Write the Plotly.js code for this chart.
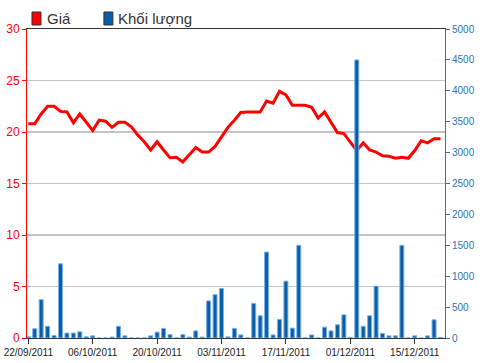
<!DOCTYPE html>
<html>
<head>
<meta charset="utf-8">
<script src="https://cdn.plot.ly/plotly-3.0.1.min.js"></script>
<style>html,body{margin:0;padding:0;background:#fff;}#chart{width:484px;height:363px;}</style>
</head>
<body>
<div id="chart"></div>
<script>
const dates = [
  "22/09/2011","23/09/2011","26/09/2011","27/09/2011","28/09/2011","29/09/2011","30/09/2011",
  "03/10/2011","04/10/2011","05/10/2011","06/10/2011","07/10/2011","10/10/2011","11/10/2011",
  "12/10/2011","13/10/2011","14/10/2011","17/10/2011","18/10/2011","19/10/2011","20/10/2011",
  "21/10/2011","24/10/2011","25/10/2011","26/10/2011","27/10/2011","28/10/2011","31/10/2011",
  "01/11/2011","02/11/2011","03/11/2011","04/11/2011","07/11/2011","08/11/2011","09/11/2011",
  "10/11/2011","11/11/2011","14/11/2011","15/11/2011","16/11/2011","17/11/2011","18/11/2011",
  "21/11/2011","22/11/2011","23/11/2011","24/11/2011","25/11/2011","28/11/2011","29/11/2011",
  "30/11/2011","01/12/2011","02/12/2011","05/12/2011","06/12/2011","07/12/2011","08/12/2011",
  "09/12/2011","12/12/2011","13/12/2011","14/12/2011","15/12/2011","16/12/2011","19/12/2011",
  "20/12/2011","21/12/2011"
];
const price = [
  20.8,20.8,21.75,22.5,22.5,22.0,21.95,
  20.9,21.75,20.95,20.15,21.15,21.05,20.45,
  20.95,20.95,20.5,19.7,19.05,18.25,19.05,
  18.25,17.5,17.55,17.1,17.8,18.5,18.05,
  18.05,18.6,19.5,20.45,21.15,21.9,21.95,
  21.95,21.95,23.0,22.8,23.95,23.6,22.6,
  22.6,22.6,22.4,21.35,21.95,20.95,19.95,
  19.85,19.0,18.2,18.95,18.25,18.05,17.7,
  17.65,17.45,17.55,17.45,18.2,19.15,18.95,
  19.35,19.35
];
const volume = [
  20,150,620,190,40,1200,80,
  80,100,20,35,0,0,15,
  190,35,0,0,0,35,95,
  155,55,0,55,15,115,15,
  600,700,800,20,155,50,0,
  560,360,1390,50,300,920,160,
  1500,0,50,0,175,115,215,
  375,10,4500,190,360,840,75,
  35,35,1500,0,35,0,35,
  295,10
];
const tickDates = ["22/09/2011","06/10/2011","20/10/2011","03/11/2011","17/11/2011","01/12/2011","15/12/2011"];
const leftTicks = [0,5,10,15,20,25,30];
const rightTicks = [0,500,1000,1500,2000,2500,3000,3500,4000,4500,5000];
const seriesNames = ["Giá","Khối lượng"];

const RED = "#ff0000";
const BLUE = "#0a5ea8";
const AXBLUE = "#2a74b4";

const traces = [
  {
    type: "scatter", mode: "lines", name: seriesNames[0],
    x: dates, y: price, yaxis: "y",
    line: {color: RED, width: 3},
    showlegend: false, hoverinfo: "skip"
  },
  {
    type: "bar", name: seriesNames[1],
    x: dates, y: volume, yaxis: "y2",
    width: 0.62,
    marker: {color: BLUE, line: {color: "#79b0e6", width: 1}},
    showlegend: false, hoverinfo: "skip"
  }
];

function px2x(p){ return (p - 27) / 418.5; }
function px2y(p){ return (338 - p) / 309; }

const layout = {
  width: 484, height: 363,
  margin: {l: 27, r: 39, t: 29, b: 25, pad: 0},
  paper_bgcolor: "#ffffff", plot_bgcolor: "#ffffff",
  showlegend: false,
  font: {family: "Liberation Sans, Arial, sans-serif", size: 10, color: "#222"},
  xaxis: {
    type: "category",
    categoryorder: "array", categoryarray: dates,
    range: [-0.2, 64.7],
    tickmode: "array", tickvals: tickDates, ticktext: tickDates,
    ticks: "outside", ticklen: 5, tickcolor: "#333", tickwidth: 1,
    showline: true, linecolor: "#333", linewidth: 1, mirror: true,
    showgrid: false, zeroline: false,
    tickfont: {size: 10, color: "#222"},
    fixedrange: true
  },
  yaxis: {
    range: [0, 30],
    tickmode: "array", tickvals: leftTicks,
    ticks: "outside", ticklen: 4, tickcolor: RED,
    showline: true, linecolor: RED, linewidth: 1,
    showgrid: true, gridcolor: "#c4c4c4", gridwidth: 1.5,
    zeroline: false,
    tickfont: {size: 12, color: RED},
    fixedrange: true
  },
  yaxis2: {
    range: [0, 5000],
    overlaying: "y", side: "right",
    tickmode: "array", tickvals: rightTicks,
    ticks: "outside", ticklen: 4, tickcolor: AXBLUE,
    showline: true, linecolor: AXBLUE, linewidth: 1,
    showgrid: false, zeroline: false,
    tickfont: {size: 10, color: AXBLUE},
    fixedrange: true
  },
  shapes: [
    {type: "rect", xref: "paper", yref: "paper",
     x0: px2x(32), x1: px2x(41), y0: px2y(25), y1: px2y(12),
     fillcolor: RED, line: {color: "#333", width: 1}},
    {type: "rect", xref: "paper", yref: "paper",
     x0: px2x(104), x1: px2x(113), y0: px2y(25), y1: px2y(12),
     fillcolor: BLUE, line: {color: "#333", width: 1}}
  ],
  annotations: [
    {xref: "paper", yref: "paper", x: px2x(45), y: px2y(18.5),
     xanchor: "left", yanchor: "middle", showarrow: false,
     text: seriesNames[0], font: {size: 15, color: "#333"}},
    {xref: "paper", yref: "paper", x: px2x(116), y: px2y(18.5),
     xanchor: "left", yanchor: "middle", showarrow: false,
     text: seriesNames[1], font: {size: 15, color: "#333"}}
  ]
};

Plotly.newPlot("chart", traces, layout, {displayModeBar: false, staticPlot: true});
</script>
</body>
</html>
